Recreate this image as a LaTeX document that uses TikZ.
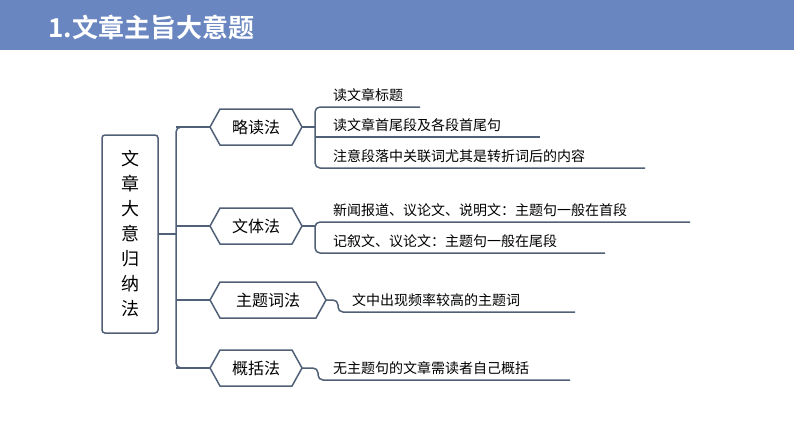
\documentclass[tikz,border=0pt]{standalone}
\usepackage{fontspec}
\setmainfont{Noto Sans CJK SC}
\newfontfamily\cjkb{Noto Sans CJK SC Bold}
\definecolor{hdr}{RGB}{106,134,192}
\definecolor{ln}{RGB}{80,96,118}
\begin{document}
\begin{tikzpicture}[x=1pt,y=-1pt,
  hex/.style={draw=ln,line width=1.5pt,fill=white,inner sep=0pt,font=\fontsize{15}{15}\selectfont},
  leaf/.style={anchor=west,inner sep=0pt,font=\fontsize{14}{14}\selectfont},
  con/.style={draw=ln,line width=1.5pt,rounded corners=5pt}]
\useasboundingbox (0,0) rectangle (794,447);
\fill[hdr] (0,0) rectangle (794,50);
\node[anchor=west,text=white,font=\fontsize{26}{26}\cjkb] (title) at (45,27) {1.文章主旨大意题};
% root
\draw[ln,line width=1.5pt,rounded corners=3pt] (102,135) rectangle (158,333);
\node[align=center,font=\fontsize{18}{25}\selectfont] (root) at (130,234) {文\\章\\大\\意\\归\\纳\\法};
\coordinate (rr) at (158,234);
\draw[con] (rr) -- (176,234);
\draw[con] (197,127) -- (176,127) -- (176,368) -- (197,368);
% hexagons
\foreach \n/\cx/\cy/\w/\t in {a/256/127/92/略读法,b/256/226/92/文体法,c/268/300/116/主题词法,d/256/368/92/概括法}{
  \draw[hex] (\cx-\w/2,\cy) -- (\cx-\w/2+10,\cy-18) -- (\cx+\w/2-10,\cy-18) -- (\cx+\w/2,\cy) -- (\cx+\w/2-10,\cy+18) -- (\cx-\w/2+10,\cy+18) -- cycle;
  \node[inner sep=0pt,font=\fontsize{16}{16}\selectfont] (\n) at (\cx,\cy) {\t};
}
\draw[con] (176,226) -- (210,226);
\draw[con] (176,300) -- (210,300);
\draw[con] (176,127) -- (210,127);
\draw[con] (176,368) -- (210,368);
% 略读法 leaves
\node[leaf] (a1) at (333,95) {读文章标题};
\node[leaf] (a2) at (333,125) {读文章首尾段及各段首尾句};
\node[leaf] (a3) at (333,156) {注意段落中关联词尤其是转折词后的内容};
\draw[con] (302,127) -- (315,127);
\draw[con] (420,107) -- (315,107) -- (315,168) -- (645,168);
\draw[con] (315,137) -- (540,137);
% 文体法
\node[leaf] (b1) at (333,210) {新闻报道、议论文、说明文：主题句一般在首段};
\node[leaf] (b2) at (333,241) {记叙文、议论文：主题句一般在尾段};
\draw[con] (302,226) -- (315,226);
\draw[con] (690,222) -- (315,222) -- (315,253) -- (605,253);
% 主题词法
\node[leaf] (c1) at (352,300) {文中出现频率较高的主题词};
\draw[con] (326,300) -- (338,300) -- (338,312) -- (575,312);
% 概括法
\node[leaf] (d1) at (333,368) {无主题句的文章需读者自己概括};
\draw[con] (302,368) -- (318,368) -- (318,380) -- (570,380);
\end{tikzpicture}
\end{document}
